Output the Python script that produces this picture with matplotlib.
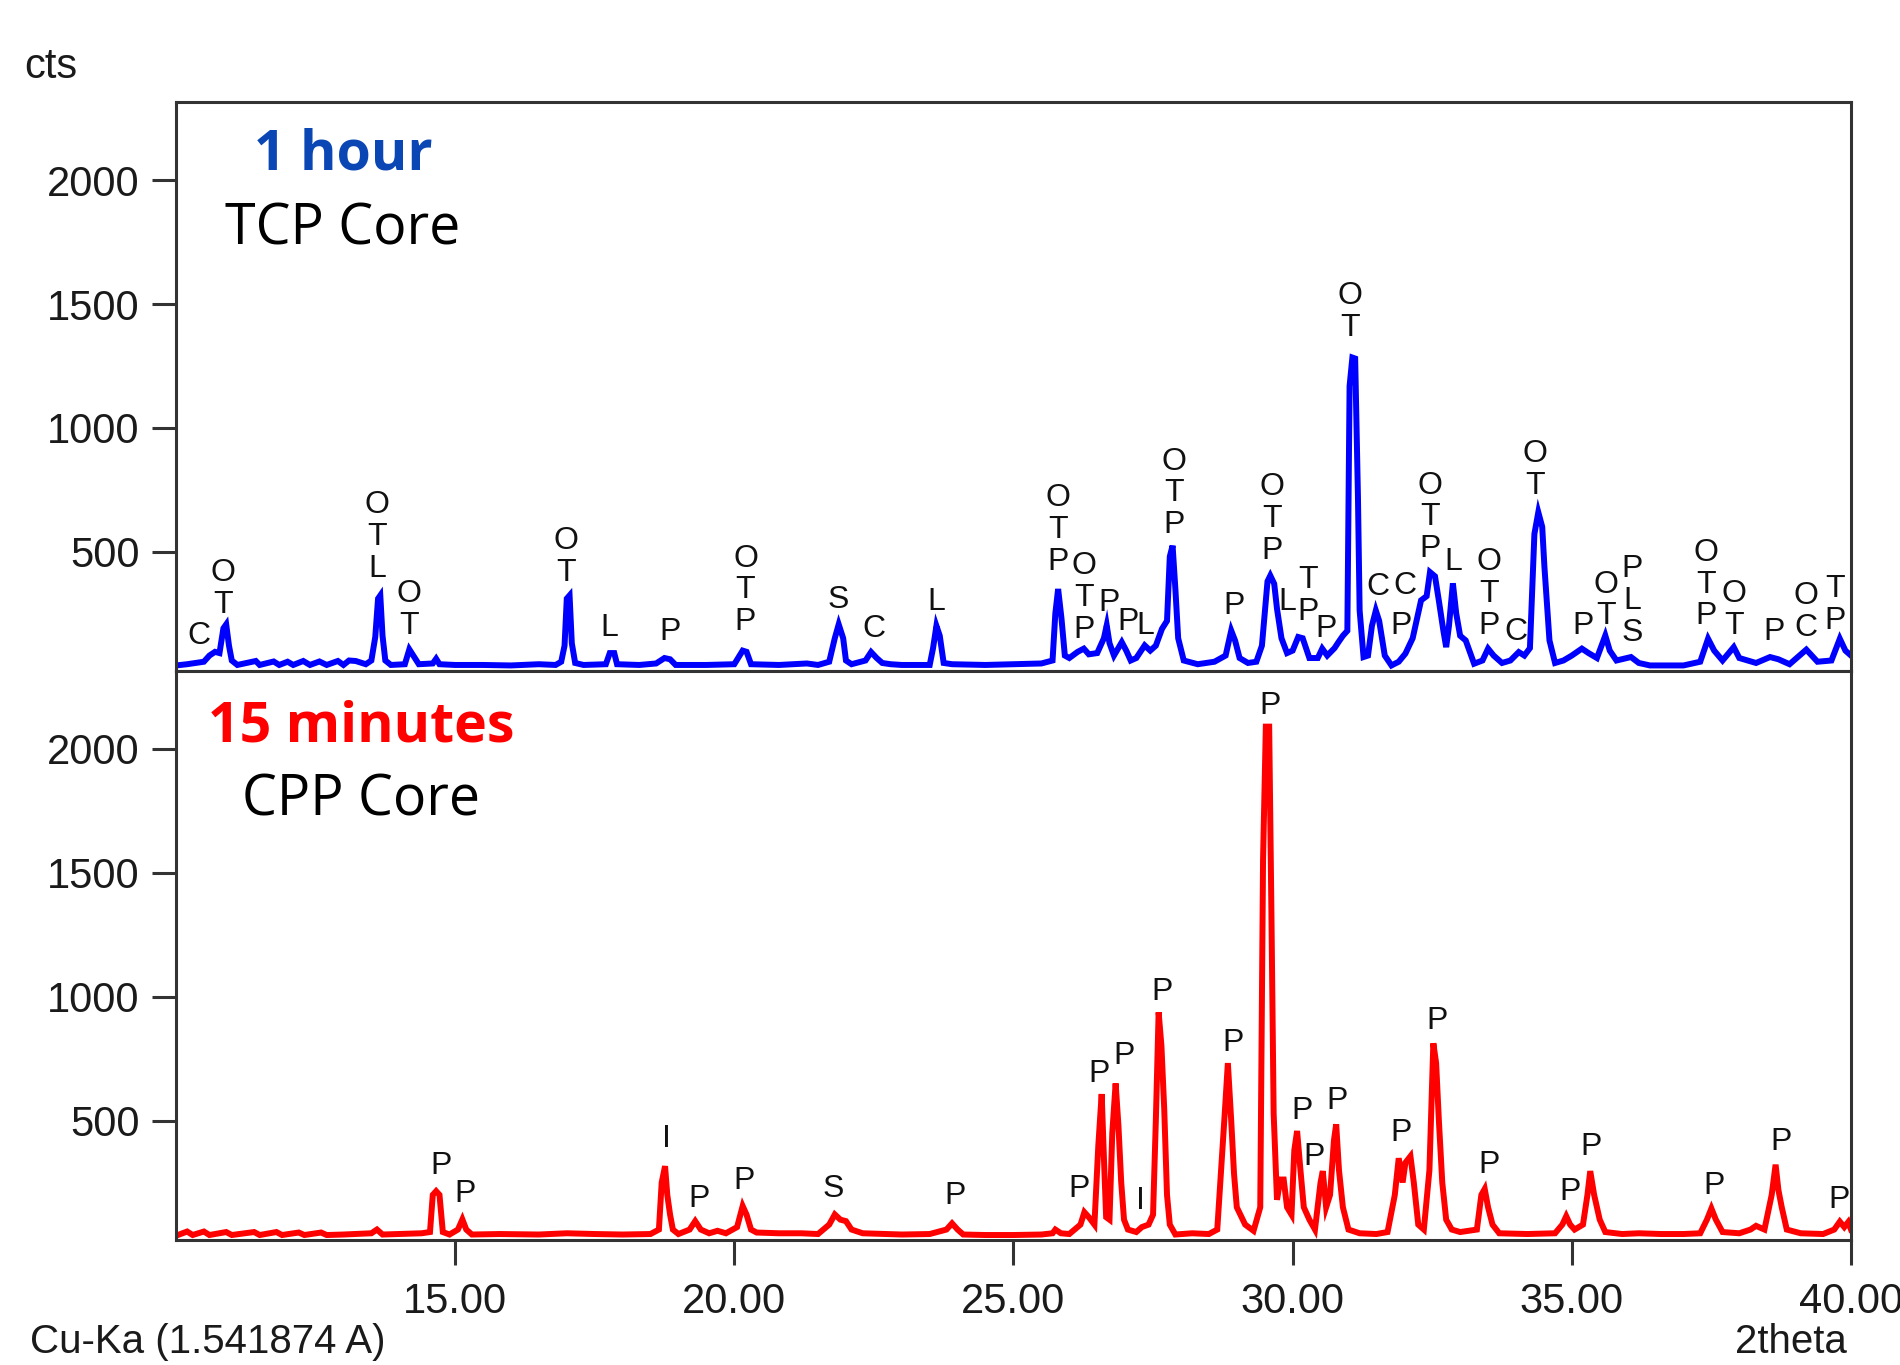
import matplotlib
matplotlib.use('Agg')
import matplotlib.pyplot as plt
import matplotlib.font_manager as fm
from matplotlib.ticker import FixedLocator, FormatStrFormatter

# ---- data (2theta, counts) ----
tcp_2theta = [10.0, 10.2, 10.35, 10.5, 10.6, 10.7, 10.78, 10.85, 10.9, 10.95, 11.0,
              11.1, 11.43, 11.5, 11.75, 11.85, 12.0, 12.1, 12.28, 12.4, 12.57, 12.7, 12.9, 13.0, 13.1, 13.22,
              13.4, 13.5, 13.57, 13.62, 13.66, 13.7, 13.75, 13.85, 14.1, 14.18, 14.25, 14.35, 14.6, 14.66, 14.72,
              15.0, 15.5, 16.0, 16.5, 16.8, 16.9, 16.96, 17.0, 17.05, 17.09, 17.15, 17.3, 17.7, 17.77, 17.85, 17.9,
              18.3, 18.6, 18.75, 18.85, 18.95, 19.5, 20.0, 20.15, 20.22, 20.3, 20.8, 21.3, 21.5, 21.7, 21.8, 21.87,
              21.95, 22.0, 22.1, 22.35, 22.45, 22.55, 22.65, 22.8, 23.0, 23.5, 23.56, 23.62, 23.68, 23.75, 23.9,
              24.5, 25.0, 25.5, 25.7, 25.75, 25.8, 25.86, 25.92, 26.0, 26.15, 26.26, 26.35, 26.5, 26.62, 26.67,
              26.72, 26.8, 26.94, 27.02, 27.1, 27.2, 27.35, 27.45, 27.55, 27.66, 27.75, 27.8, 27.85, 27.9, 27.95,
              28.05, 28.3, 28.6, 28.8, 28.9, 28.97, 29.05, 29.2, 29.35, 29.45, 29.55, 29.6, 29.67, 29.72, 29.8,
              29.9, 30.0, 30.1, 30.18, 30.3, 30.45, 30.53, 30.62, 30.75, 30.82, 30.9, 30.98, 31.02, 31.07, 31.12,
              31.17, 31.2, 31.27, 31.35, 31.42, 31.49, 31.55, 31.65, 31.77, 31.9, 32.02, 32.15, 32.3, 32.4, 32.46,
              32.55, 32.62, 32.7, 32.75, 32.8, 32.87, 32.93, 33.0, 33.1, 33.25, 33.4, 33.5, 33.6, 33.75, 33.9,
              34.05, 34.15, 34.25, 34.33, 34.4, 34.47, 34.51, 34.55, 34.6, 34.7, 34.85, 35.0, 35.18, 35.3, 35.45,
              35.6, 35.68, 35.8, 36.06, 36.2, 36.4, 37.0, 37.3, 37.44, 37.55, 37.7, 37.9, 38.0, 38.3, 38.55, 38.7,
              38.9, 39.2, 39.4, 39.65, 39.8, 39.9, 40.0]
tcp_counts = [40, 45, 50, 55, 80, 95, 90, 190, 206, 120, 60,
              42, 58, 42, 56, 42, 55, 42, 58, 42, 56, 42, 58, 42, 60, 58,
              45, 60, 155, 310, 323, 160, 60, 42, 45, 105, 80, 45, 48, 67, 45,
              42, 42, 40, 45, 42, 55, 120, 310, 323, 130, 50, 42, 45, 90, 90, 45,
              42, 48, 70, 65, 42, 42, 45, 100, 95, 45, 42, 48, 42, 55, 150, 206,
              150, 60, 45, 60, 94, 70, 50, 45, 42, 42, 110, 200, 160, 50, 45,
              42, 45, 48, 60, 250, 349, 230, 80, 70, 95, 108, 85, 90, 150, 202,
              130, 80, 134, 100, 60, 70, 121, 100, 120, 188, 220, 480, 524, 349, 150,
              60, 45, 55, 80, 181, 140, 70, 50, 55, 120, 380, 403, 370, 269, 150,
              90, 100, 155, 150, 70, 70, 108, 80, 110, 134, 160, 180, 1169, 1284, 1280,
              719, 262, 74, 80, 200, 262, 220, 80, 40, 55, 88, 150, 303, 320, 417,
              400, 300, 180, 114, 200, 372, 250, 160, 141, 47, 60, 108, 80, 50, 60,
              94, 80, 110, 571, 659, 600, 437, 303, 141, 50, 60, 80, 108, 90, 70,
              161, 100, 60, 74, 50, 40, 40, 55, 148, 100, 60, 114, 70, 50, 74, 65,
              45, 104, 55, 60, 148, 100, 80]

cpp_2theta = [10.0, 10.2, 10.3, 10.5, 10.6, 10.9, 11.0, 11.4, 11.5, 11.8, 11.9, 12.2, 12.3, 12.6, 12.7, 13.0,
              13.5, 13.6, 13.7, 14.0, 14.4, 14.55, 14.6, 14.66, 14.72,
              14.78, 14.9, 15.05, 15.13, 15.2, 15.3, 15.8, 16.5, 17.0, 17.5, 18.0, 18.5, 18.65, 18.7, 18.76, 18.8,
              18.85, 18.9, 19.0, 19.2, 19.3, 19.4, 19.55, 19.7, 19.85, 20.05, 20.15, 20.22, 20.3, 20.4, 20.8, 21.2,
              21.5, 21.7, 21.8, 21.9, 22.0, 22.1, 22.3, 22.7, 23.0, 23.5, 23.8, 23.9, 24.0, 24.1, 24.5, 25.0, 25.5,
              25.7, 25.75, 25.85, 26.0, 26.2, 26.27, 26.35, 26.45, 26.52, 26.58, 26.62, 26.66, 26.72, 26.77, 26.83,
              26.88, 26.93, 26.98, 27.05, 27.2, 27.3, 27.42, 27.5, 27.55, 27.6, 27.65, 27.7, 27.75, 27.8, 27.9,
              28.2, 28.5, 28.65, 28.78, 28.84, 28.9, 28.95, 29.0, 29.15, 29.3, 29.42, 29.47, 29.52, 29.58, 29.62,
              29.66, 29.72, 29.78, 29.84, 29.9, 29.98, 30.03, 30.08, 30.14, 30.2, 30.3, 30.4, 30.5, 30.54, 30.6,
              30.67, 30.74, 30.78, 30.83, 30.9, 31.0, 31.2, 31.5, 31.7, 31.83, 31.9, 31.97, 32.02, 32.11, 32.17,
              32.25, 32.35, 32.45, 32.52, 32.57, 32.62, 32.68, 32.75, 32.85, 33.0, 33.3, 33.38, 33.44, 33.5, 33.58,
              33.7, 34.2, 34.7, 34.83, 34.9, 34.97, 35.05, 35.2, 35.28, 35.33, 35.4, 35.5, 35.6, 35.9, 36.2, 36.6,
              37.0, 37.3, 37.42, 37.5, 37.58, 37.7, 38.0, 38.2, 38.3, 38.45, 38.58, 38.65, 38.7, 38.76, 38.85,
              39.1, 39.5, 39.7, 39.8, 39.88, 39.95, 40.0]
cpp_counts = [35, 52, 38, 52, 38, 50, 38, 50, 38, 50, 38, 48, 38, 48, 38, 40,
              45, 60, 40, 42, 45, 50, 200, 215, 200,
              50, 40, 60, 101, 60, 40, 42, 40, 45, 42, 40, 42, 60, 250, 316, 200,
              120, 60, 42, 60, 94, 60, 45, 55, 45, 70, 155, 120, 60, 48, 45, 45,
              42, 80, 121, 100, 94, 60, 45, 42, 40, 42, 60, 85, 60, 40, 38, 38, 40,
              45, 60, 45, 42, 80, 130, 110, 80, 400, 607, 350, 110, 100, 450, 650,
              480, 250, 100, 60, 50, 70, 80, 120, 500, 937, 802, 548, 200, 80, 40,
              45, 42, 60, 514, 732, 500, 286, 150, 80, 55, 150, 1550, 2090, 2090, 1341,
              528, 180, 262, 262, 150, 120, 380, 458, 300, 150, 100, 60, 250, 296, 150,
              200, 420, 485, 300, 150, 60, 45, 42, 50, 200, 348, 250, 330, 356, 250,
              80, 60, 300, 812, 732, 497, 250, 100, 60, 50, 60, 200, 224, 150, 80,
              45, 42, 45, 80, 114, 80, 60, 80, 200, 296, 200, 100, 50, 42, 45, 42,
              42, 45, 100, 145, 100, 50, 45, 60, 75, 60, 200, 322, 220, 150, 60,
              45, 42, 60, 92, 70, 90, 60]

# phase labels: (2theta, counts at bottom of label, text)
tcp_labels = [(10.41, 128, 'C'), (10.85, 251, 'O\nT'), (13.6, 397, 'O\nT\nL'), (14.18, 168, 'O\nT'),
              (16.98, 383, 'O\nT'), (17.77, 157, 'L'), (18.85, 144, 'P'), (20.2, 182, 'O\nT\nP'),
              (21.87, 273, 'S'), (22.51, 155, 'C'), (23.62, 265, 'L'), (25.79, 426, 'O\nT\nP'),
              (26.26, 152, 'O\nT\nP'), (26.71, 262, 'P'), (27.05, 182, 'P'), (27.36, 168, 'L'),
              (27.87, 574, 'O\nT\nP'), (28.95, 249, 'P'), (29.63, 470, 'O\nT\nP'), (29.91, 265, 'L'),
              (30.28, 224, 'T\nP'), (30.6, 155, 'P'), (31.03, 1371, 'O\nT'), (31.52, 323, 'C'),
              (31.95, 168, 'P'), (32.02, 329, 'C'), (32.46, 477, 'O\nT\nP'), (32.87, 424, 'L'),
              (33.52, 168, 'O\nT\nP'), (34.0, 144, 'C'), (34.34, 733, 'O\nT'), (35.2, 168, 'P'),
              (35.61, 206, 'O\nT'), (36.08, 139, 'P\nL\nS'), (37.41, 206, 'O\nT\nP'), (37.91, 168, 'O\nT'),
              (38.62, 144, 'P'), (39.19, 161, 'O\nC'), (39.71, 188, 'T\nP')]
cpp_labels = [(14.74, 285, 'P'), (15.18, 171, 'P'), (18.78, 393, 'I'), (19.37, 151, 'P'), (20.18, 225, 'P'),
              (21.77, 191, 'S'), (23.96, 164, 'P'), (26.17, 190, 'P'), (26.53, 657, 'P'), (26.98, 727, 'P'),
              (27.28, 141, 'I'), (27.66, 985, 'P'), (28.93, 782, 'P'), (29.6, 2142, 'P'), (30.16, 508, 'P'),
              (30.39, 320, 'P'), (30.8, 547, 'P'), (31.95, 416, 'P'), (32.59, 868, 'P'), (33.51, 289, 'P'),
              (34.97, 180, 'P'), (35.35, 360, 'P'), (37.54, 203, 'P'), (38.75, 383, 'P'), (39.79, 148, 'P')]

yticks = [500, 1000, 1500, 2000]
xticks = [15, 20, 25, 30, 35, 40]

# the software uses a narrow sans; use one if it is installed
installed = {f.name for f in fm.fontManager.ttflist}
if 'Liberation Sans Narrow' in installed:
    tick_font, tick_size = 'Liberation Sans Narrow', 33
else:
    tick_font, tick_size = 'Liberation Sans', 30
lab_font = ['Liberation Sans', 'DejaVu Sans']
title_font = ['Open Sans', 'DejaVu Sans']
frame = '#333333'

fig = plt.figure(figsize=(19, 13.65), dpi=100)
ax1 = fig.add_axes([0.0926, 0.5085, 0.8816, 0.4165])
ax2 = fig.add_axes([0.0926, 0.0916, 0.8816, 0.4169])

for ax in (ax1, ax2):
    ax.set_xlim(10, 40)
    ax.set_ylim(18, 2315)
    ax.yaxis.set_major_locator(FixedLocator(yticks))
    ax.tick_params(axis='y', direction='out', length=17, width=2.2, color=frame, pad=9,
                   labelsize=tick_size, labelcolor='#1a1a1a')
    for lab in ax.get_yticklabels():
        lab.set_family(tick_font)
    for s in ax.spines.values():
        s.set_color(frame)
        s.set_linewidth(2.2)

ax1.tick_params(axis='x', bottom=False, labelbottom=False)
ax2.xaxis.set_major_locator(FixedLocator(xticks))
ax2.xaxis.set_major_formatter(FormatStrFormatter('%.2f'))
ax2.tick_params(axis='x', direction='out', length=18, width=2.2, color=frame, pad=12,
                labelsize=tick_size, labelcolor='#1a1a1a')
for lab in ax2.get_xticklabels():
    lab.set_family(tick_font)

ax1.plot(tcp_2theta, tcp_counts, color='#0000ff', lw=4.3, solid_joinstyle='miter')
ax2.plot(cpp_2theta, cpp_counts, color='#ff0000', lw=4.3, solid_joinstyle='miter')

for x, y, t in tcp_labels:
    ax1.text(x, y, t, ha='center', va='baseline', fontsize=23, family=lab_font,
             color='#111111', linespacing=1.08)
for x, y, t in cpp_labels:
    ax2.text(x, y, t, ha='center', va='baseline', fontsize=23, family=lab_font,
             color='#111111', linespacing=1.08)

fig.text(0.1337, 0.8864, '1 hour', color='#0a46b4', fontsize=40, fontweight='bold',
         family=title_font, ha='left', va='center')
fig.text(0.1184, 0.8315, 'TCP Core', color='black', fontsize=40, family=title_font,
         ha='left', va='center')
fig.text(0.1095, 0.4674, '15 minutes', color='#ff0000', fontsize=40, fontweight='bold',
         family=title_font, ha='left', va='center')
fig.text(0.1274, 0.4132, 'CPP Core', color='black', fontsize=40, family=title_font,
         ha='left', va='center')

fig.text(0.0126, 0.951, 'cts', fontsize=tick_size, family=tick_font, color='#1a1a1a',
         ha='left', va='center')
fig.text(0.016, 0.017, 'Cu-Ka (1.541874 A)', fontsize=tick_size - 1, family=tick_font,
         color='#1a1a1a', ha='left', va='center')
fig.text(0.972, 0.017, '2theta', fontsize=tick_size - 1, family=tick_font, color='#1a1a1a',
         ha='right', va='center')

fig.savefig('out.png', dpi=100, facecolor='white')
